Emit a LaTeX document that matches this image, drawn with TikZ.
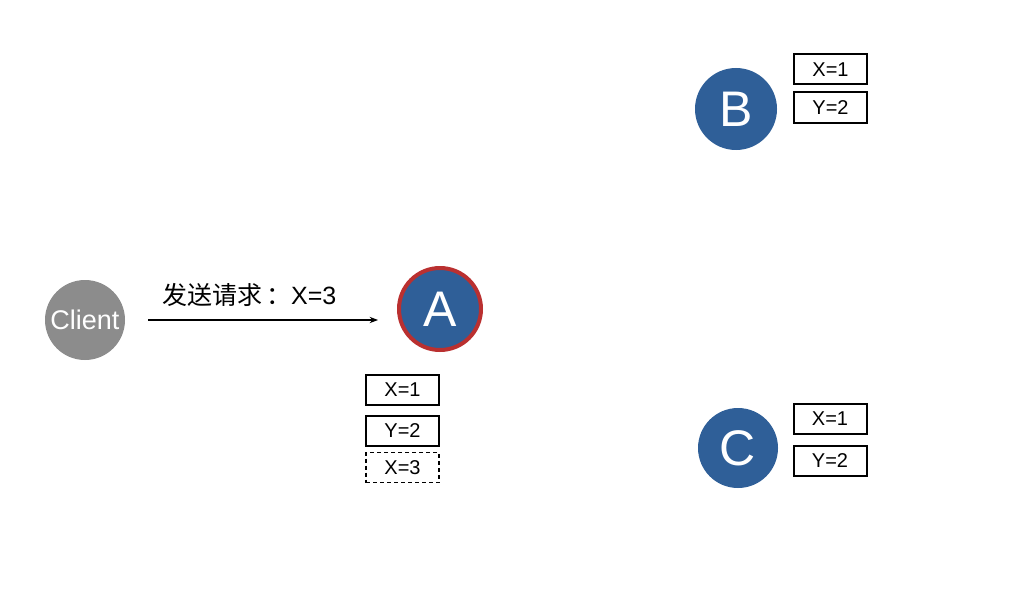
\documentclass[tikz,border=0pt]{standalone}
\usepackage{fontspec}
\setmainfont{Liberation Sans}
\newfontfamily\cjk{Noto Sans CJK SC}
\usetikzlibrary{arrows.meta,positioning}

\definecolor{nodeblue}{HTML}{2F5F98}
\definecolor{leaderred}{HTML}{BA3030}
\definecolor{clientgray}{HTML}{8C8C8C}

\begin{document}
\begin{tikzpicture}[
  x=1pt, y=-1pt,
  >=Stealth,
  server/.style={circle, fill=nodeblue, text=white, minimum size=82pt,
                 inner sep=0pt, font=\fontsize{50}{54}\selectfont},
  logbox/.style={draw, line width=2pt, minimum width=73pt,
                 minimum height=30pt, inner sep=0pt,
                 font=\fontsize{20}{22}\selectfont},
]
\useasboundingbox (0,0) rectangle (1024,615);

\node[circle, fill=clientgray, text=white, minimum size=80pt, inner sep=0pt,
      font=\fontsize{27}{29}\selectfont] (client) at (85,320) {Client};

\node[server, draw=leaderred, line width=4pt, minimum size=82pt] (a) at (440,309) {A};
\node[server] (b) at (736,109) {B};
\node[server, minimum size=80pt] (c) at (738,448) {C};

% log entries
\node[logbox] (ax) at (402.5,390) {X=1};
\node[logbox, below=9pt of ax] (ay) {Y=2};
\node[logbox, line width=1.2pt, dash pattern=on 4pt off 3pt,
      below=5pt of ay] (az) {X=3};

\node[logbox] (bx) at (830.5,69.5) {X=1};
\node[logbox, below=6pt of bx] (by) {Y=2};

\node[logbox] (cx) at (830,419) {X=1};
\node[logbox, below=10pt of cx] (cy) {Y=2};

% request
\coordinate (reqs) at (148,320);
\coordinate (reqe) at (378,320);
\draw[->, line width=1.2pt] (reqs) -- node[pos=0.44, above=9pt, font=\fontsize{25}{28}\selectfont]
  {{\cjk 发送请求\,：}X=3} (reqe);
\end{tikzpicture}
\end{document}
